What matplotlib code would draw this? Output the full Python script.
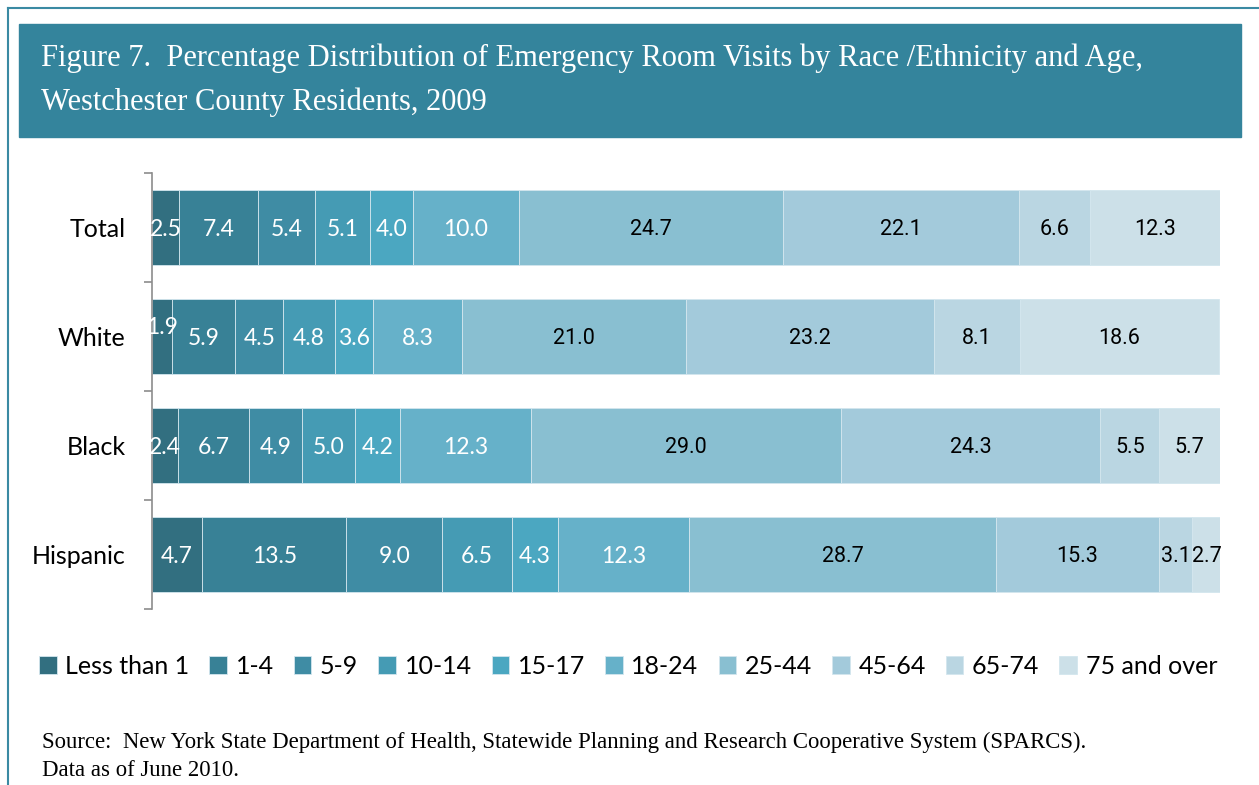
import numpy as np
import matplotlib
matplotlib.use("Agg")
import matplotlib.pyplot as plt
from matplotlib.patches import Rectangle
from matplotlib.lines import Line2D

groups = ["Total", "White", "Black", "Hispanic"]
ages = ["Less than 1", "1-4", "5-9", "10-14", "15-17", "18-24",
        "25-44", "45-64", "65-74", "75 and over"]
total = [2.5, 7.4, 5.4, 5.1, 4.0, 10.0, 24.7, 22.1, 6.6, 12.3]
white = [1.9, 5.9, 4.5, 4.8, 3.6, 8.3, 21.0, 23.2, 8.1, 18.6]
black = [2.4, 6.7, 4.9, 5.0, 4.2, 12.3, 29.0, 24.3, 5.5, 5.7]
hispanic = [4.7, 13.5, 9.0, 6.5, 4.3, 12.3, 28.7, 15.3, 3.1, 2.7]

colors = ["#326f80", "#388196", "#3f8ca4", "#459bb4", "#4ba7c1",
          "#66b1c9", "#89bfd1", "#a3cadb", "#bad6e2", "#cce0e8"]

W, H = 1259, 785
fig = plt.figure(figsize=(W / 100, H / 100), dpi=100)

# outer frame + title banner
fig.add_artist(Line2D([8 / W, 8 / W], [0, 1 - 8 / H], color="#3a8aa3", lw=1.5))
fig.add_artist(Line2D([8 / W, 1], [1 - 8 / H, 1 - 8 / H], color="#3a8aa3", lw=1.5))
fig.add_artist(Rectangle((19 / W, 1 - 137 / H), (1241 - 19) / W, (137 - 24) / H,
                         transform=fig.transFigure, color="#34849c", zorder=0))
serif = ["Liberation Serif", "DejaVu Serif"]
fig.text(41 / W, 1 - 66 / H,
         "Figure 7.  Percentage Distribution of Emergency Room Visits by Race /Ethnicity and Age,",
         color="white", fontsize=22, family=serif, va="baseline")
fig.text(41 / W, 1 - 110 / H, "Westchester County Residents, 2009",
         color="white", fontsize=22, family=serif, va="baseline")

ax = fig.add_axes([152 / W, 1 - 609 / H, (1220 - 152) / W, (609 - 173) / H])
data = np.array([total, white, black, hispanic])
ypos = np.arange(len(groups))
left = np.zeros(len(groups))
for j, age in enumerate(ages):
    vals = data[:, j]
    ax.barh(ypos, vals, left=left, height=0.69, color=colors[j],
            edgecolor="#d3e6ee", linewidth=0.6, label=age)
    for i, v in enumerate(vals):
        dy = -0.08 if (i == 1 and j == 0) else 0.02
        if j < 6:
            ax.text(left[i] + v / 2, ypos[i] + dy, f"{v:.1f}", ha="center", va="center",
                    color="white", fontsize=16.5, family=["Lato", "DejaVu Sans"])
        else:
            ax.text(left[i] + v / 2, ypos[i] + dy, f"{v:.1f}", ha="center", va="center",
                    color="black", fontsize=15.5, family=["Roboto", "DejaVu Sans"])
    left += vals

ax.set_xlim(0, 100)
ax.set_ylim(len(groups) - 0.5, -0.5)
ax.set_yticks(np.arange(-0.5, len(groups)), minor=False)
ax.set_yticklabels([])
ax.set_yticks(ypos, minor=True)
ax.set_yticklabels(groups, minor=True, fontsize=18, family=["Lato", "DejaVu Sans"])
ax.tick_params(axis="y", which="minor", length=0, pad=19)
ax.tick_params(axis="y", which="major", length=6, color="#8c8c8c", width=1.2)
ax.set_xticks([])
for s in ["top", "right", "bottom"]:
    ax.spines[s].set_visible(False)
ax.spines["left"].set_color("#8c8c8c")
ax.spines["left"].set_linewidth(1.2)

fig.legend(loc="center", bbox_to_anchor=(628 / W, 1 - 666 / H), ncol=10,
           frameon=False, handlelength=0.7, handleheight=0.7, handletextpad=0.35,
           columnspacing=0.8, prop={"family": ["Lato", "DejaVu Sans"], "size": 18})

fig.text(42 / W, 1 - 748 / H,
         "Source:  New York State Department of Health, Statewide Planning and Research Cooperative System (SPARCS).",
         fontsize=16.4, family=serif, va="baseline")
fig.text(42 / W, 1 - 776 / H, "Data as of June 2010.",
         fontsize=16.4, family=serif, va="baseline")

fig.savefig("out.png", dpi=100)
